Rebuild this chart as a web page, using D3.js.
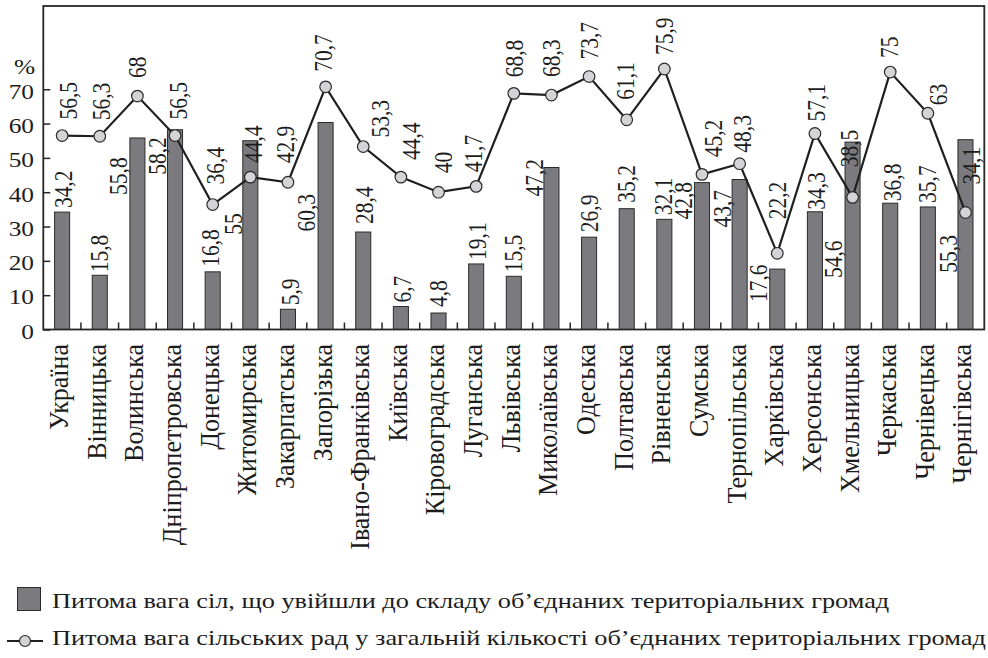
<!DOCTYPE html>
<html>
<head>
<meta charset="utf-8">
<script src="https://cdn.jsdelivr.net/npm/d3@7/dist/d3.min.js"></script>
<style>
  html, body { margin: 0; padding: 0; background: #fff; }
  svg { display: block; }
  text { font-family: "Liberation Serif", "Times New Roman", serif; fill: #1c1c1c; }
</style>
</head>
<body>
<svg id="chart" width="988" height="658"></svg>
<script>
// ---------------- DATA ----------------
const categories = [
  "Україна", "Вінницька", "Волинська", "Дніпропетровська", "Донецька",
  "Житомирська", "Закарпатська", "Запорізька", "Івано-Франківська", "Київська",
  "Кіровоградська", "Луганська", "Львівська", "Миколаївська", "Одеська",
  "Полтавська", "Рівненська", "Сумська", "Тернопільська", "Харківська",
  "Херсонська", "Хмельницька", "Черкаська", "Чернівецька", "Чернігівська"
];
// Питома вага сіл, що увійшли до складу ОТГ (bars)
const villagesShare = [
  34.2, 15.8, 55.8, 58.2, 16.8, 55, 5.9, 60.3, 28.4, 6.7,
  4.8, 19.1, 15.5, 47.2, 26.9, 35.2, 32.1, 42.8, 43.7, 17.6,
  34.3, 54.6, 36.8, 35.7, 55.3
];
// Питома вага сільських рад у загальній кількості ОТГ (line)
const councilsShare = [
  56.5, 56.3, 68, 56.5, 36.4, 44.4, 42.9, 70.7, 53.3, 44.4,
  40, 41.7, 68.8, 68.3, 73.7, 61.1, 75.9, 45.2, 48.3, 22.2,
  57.1, 38.5, 75, 63, 34.1
];
const yTickValues = [0, 10, 20, 30, 40, 50, 60, 70];
const yUnit = "%";
const legendLabels = [
  "Питома вага сіл, що увійшли до складу об’єднаних територіальних громад",
  "Питома вага сільських рад у загальній кількості об’єднаних територіальних громад"
];

// ---------------- LAYOUT (label placement, px) ----------------
// [dx from band centre, dy of label start relative to bar top]
const barLabelOffsets = [
  [1, -4], [0, -3], [-19, 57], [-18, 45], [-2, -5], [-17, 94], [2, -4], [-19, 109],
  [1, -8], [1, -4], [0, -6], [1, -4], [0, -4], [-17, 29], [0, -5], [0, -6],
  [-1, -4], [-19, 37], [-17, 48], [-19, 33], [1, -2], [-19, 136], [2, -2], [0, -4], [-17, 133]
];
// [dx from point, dy of label start relative to point]
const lineLabelOffsets = [
  [6, -16], [2, -16], [0, -18], [3, -16], [3, -20], [3, -14], [-3, -19], [-2, -15],
  [17, -9], [10, -17], [5, -19], [-3, -14], [1, -16], [0, -18], [0, -17], [-1, -20],
  [0, -14], [11, -17], [3, -11], [0, -34], [1, -12], [-3, -30], [-1, -14], [11, -8], [6, -28]
];

// ---------------- CHART ----------------
const svg = d3.select("#chart");
const K = 1.18;            // horizontal glyph stretch of the original artwork
const numFont = 21.5;
const catFont = 26;
const catK = 1.08;
const plotL = 43.3, plotR = 984.3, plotT = 6, plotB = 329.5;

const x = d3.scaleBand()
  .domain(categories)
  .range([plotL, plotR])
  .paddingInner(0.6)
  .paddingOuter(0.3);

const y = d3.scaleLinear()
  .domain([0, 94.25])
  .range([plotB, plotT]);

const fmt = v => String(v).replace(".", ",");
const cx = c => x(c) + x.bandwidth() / 2;

// bars
svg.append("g").selectAll("rect")
  .data(categories)
  .join("rect")
  .attr("x", c => x(c))
  .attr("y", (c, i) => y(villagesShare[i]))
  .attr("width", x.bandwidth())
  .attr("height", (c, i) => y(0) - y(villagesShare[i]))
  .attr("fill", "#7b7b7f")
  .attr("stroke", "#2b2b2b")
  .attr("stroke-width", 1);

// frame
svg.append("rect")
  .attr("x", plotL).attr("y", plotT)
  .attr("width", plotR - plotL).attr("height", plotB - plotT)
  .attr("fill", "none")
  .attr("stroke", "#262626")
  .attr("stroke-width", 1.8);

// y axis (ticks inward)
const yAxis = d3.axisRight(y).tickValues(yTickValues).tickSize(7).tickFormat("");
const gy = svg.append("g").attr("transform", `translate(${plotL},0)`).call(yAxis);
gy.select(".domain").remove();
gy.selectAll(".tick line").attr("stroke", "#262626").attr("stroke-width", 1.5);

svg.append("g").selectAll("text")
  .data(yTickValues)
  .join("text")
  .attr("text-anchor", "end")
  .attr("transform", d => `translate(34,${y(d) + 2}) scale(${K},1)`)
  .attr("dy", "0.34em")
  .attr("font-size", numFont)
  .text(d => d);

svg.append("text")
  .attr("text-anchor", "end")
  .attr("transform", `translate(35,74) scale(${K},1)`)
  .attr("font-size", numFont)
  .text(yUnit);

// x axis ticks between categories (inward)
const boundaries = categories.slice(1);
svg.append("g").selectAll("line")
  .data(boundaries)
  .join("line")
  .attr("x1", c => x(c) - (x.step() - x.bandwidth()) / 2)
  .attr("x2", c => x(c) - (x.step() - x.bandwidth()) / 2)
  .attr("y1", plotB)
  .attr("y2", plotB - 7)
  .attr("stroke", "#262626")
  .attr("stroke-width", 1.5);

// x category labels (rotated)
svg.append("g").selectAll("text")
  .data(categories)
  .join("text")
  .attr("text-anchor", "end")
  .attr("transform", c => `translate(${cx(c)},344) scale(${catK},1) rotate(-90)`)
  .attr("dy", 5.5)
  .attr("font-size", catFont)
  .text(c => c);

// line
const line = d3.line()
  .x((d, i) => cx(categories[i]))
  .y(d => y(d));

svg.append("path")
  .datum(councilsShare)
  .attr("d", line)
  .attr("fill", "none")
  .attr("stroke", "#1f1f1f")
  .attr("stroke-width", 2.2);

svg.append("g").selectAll("circle")
  .data(councilsShare)
  .join("circle")
  .attr("cx", (d, i) => cx(categories[i]))
  .attr("cy", d => y(d))
  .attr("r", 5.8)
  .attr("fill", "#d4d4d6")
  .attr("stroke", "#2a2a2a")
  .attr("stroke-width", 1.2);

// bar value labels
svg.append("g").selectAll("text")
  .data(villagesShare)
  .join("text")
  .attr("text-anchor", "start")
  .attr("transform", (d, i) => {
    const o = barLabelOffsets[i];
    return `translate(${cx(categories[i]) + o[0]},${y(d) + o[1]}) scale(${K},1) rotate(-90)`;
  })
  .attr("dy", "0.34em")
  .attr("font-size", numFont)
  .text(fmt);

// line value labels
svg.append("g").selectAll("text")
  .data(councilsShare)
  .join("text")
  .attr("text-anchor", "start")
  .attr("transform", (d, i) => {
    const o = lineLabelOffsets[i];
    return `translate(${cx(categories[i]) + o[0]},${y(d) + o[1]}) scale(${K},1) rotate(-90)`;
  })
  .attr("dy", "0.34em")
  .attr("font-size", numFont)
  .text(fmt);

// legend
const legK = 1.195;
const lg = svg.append("g");
lg.append("rect")
  .attr("x", 17.5).attr("y", 587.5).attr("width", 23).attr("height", 23)
  .attr("fill", "#7b7b7f").attr("stroke", "#2b2b2b").attr("stroke-width", 1);
lg.append("text")
  .attr("transform", `translate(52,608) scale(${legK},1)`)
  .attr("font-size", 22)
  .text(legendLabels[0]);

lg.append("line")
  .attr("x1", 7).attr("x2", 43).attr("y1", 641).attr("y2", 641)
  .attr("stroke", "#1f1f1f").attr("stroke-width", 2.2);
lg.append("circle")
  .attr("cx", 25).attr("cy", 641).attr("r", 5.5)
  .attr("fill", "#d4d4d6").attr("stroke", "#2a2a2a").attr("stroke-width", 1.2);
lg.append("text")
  .attr("transform", `translate(52,645) scale(${legK},1)`)
  .attr("font-size", 22)
  .text(legendLabels[1]);
</script>
</body>
</html>
